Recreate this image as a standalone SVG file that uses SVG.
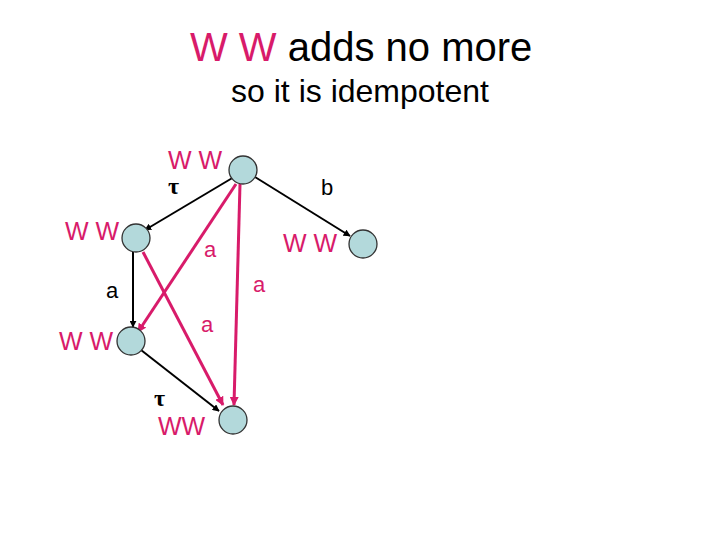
<svg xmlns="http://www.w3.org/2000/svg" width="720" height="540" viewBox="0 0 720 540">
<style>
text{font-family:"Liberation Sans",Arial,sans-serif}
.p{fill:#d81b6a}
.k{fill:#000}
.lbl{font-size:25px}
.sm{font-size:22px}
.tau{font-family:"Liberation Serif","Times New Roman",serif;font-size:24px;font-weight:bold;fill:#000}
.node{fill:#b3d9db;stroke:#333;stroke-width:1.3}
.eb{stroke:#000;stroke-width:2;fill:none;marker-end:url(#ab)}
.ep{stroke:#d81b6a;stroke-width:3;fill:none;marker-end:url(#ap)}
</style>
<defs>
<marker id="ab" viewBox="0 0 10 10" refX="9" refY="5" markerWidth="7" markerHeight="7" markerUnits="userSpaceOnUse" orient="auto"><path d="M0,0L10,5L0,10z" fill="#000"/></marker>
<marker id="ap" viewBox="0 0 10 10" refX="9" refY="5" markerWidth="9" markerHeight="9" markerUnits="userSpaceOnUse" orient="auto"><path d="M0,0L10,5L0,10z" fill="#d81b6a"/></marker>
</defs>
<rect width="720" height="540" fill="#fff"/>
<g id="title">
<text x="190" y="61" font-size="40"><tspan class="p">W W</tspan><tspan class="k"> adds no more</tspan></text>
<text x="360" y="102" font-size="32" text-anchor="middle">so it is idempotent</text>
</g>
<g id="connectors">
<line class="eb" x1="234" y1="177" x2="145" y2="230"/>
<line class="eb" x1="255" y1="177" x2="350" y2="236"/>
<line class="eb" x1="133" y1="252" x2="133" y2="327"/>
<line class="eb" x1="141" y1="350" x2="219" y2="411"/>
<line class="ep" x1="236" y1="184" x2="138" y2="332"/>
<line class="ep" x1="143" y1="252" x2="223" y2="405"/>
<line class="ep" x1="240" y1="184" x2="234" y2="405"/>
<text class="tau" x="168" y="194" font-size="22">τ</text>
<text class="sm k" x="321" y="195">b</text>
<text class="sm p" x="204" y="257">a</text>
<text class="sm p" x="253" y="292">a</text>
<text class="sm k" x="106" y="298">a</text>
<text class="sm p" x="201" y="332">a</text>
<text class="tau" x="154" y="406">τ</text>
</g>
<g id="n-top"><circle class="node" cx="243" cy="170" r="14"/><text class="lbl p" x="168" y="169">W W</text></g>
<g id="n-right"><circle class="node" cx="363" cy="244" r="14"/><text class="lbl p" x="283" y="252">W W</text></g>
<g id="n-left1"><circle class="node" cx="136" cy="238" r="14"/><text class="lbl p" x="65" y="240">W W</text></g>
<g id="n-left2"><circle class="node" cx="131" cy="341" r="14"/><text class="lbl p" x="59" y="350">W W</text></g>
<g id="n-bottom"><circle class="node" cx="233" cy="420" r="14"/><text class="lbl p" x="158" y="435">WW</text></g>
</svg>
